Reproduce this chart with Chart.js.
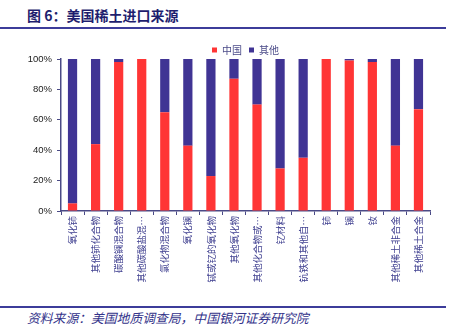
<!DOCTYPE html>
<html>
<head>
<meta charset="utf-8">
<script src="https://cdn.jsdelivr.net/npm/chart.js@4"></script>
<style>
  body { margin: 0; background: #fff; }
  #wrap { position: relative; width: 449px; height: 329px; overflow: hidden; }
  #title { position: absolute; left: 27px; top: 5px; font: bold 14px "Noto Sans CJK SC", sans-serif; color: #1e1e6e; white-space: nowrap; }
  .rule { position: absolute; left: 0; width: 446px; background: #3c3c9a; }
  #source { position: absolute; left: 27px; top: 308px; font: italic 12.8px "Noto Sans CJK SC", sans-serif; color: #33338a; white-space: nowrap; }
  #box { position: absolute; left: 0; top: 36px; width: 449px; height: 260px; }
</style>
</head>
<body>
<div id="wrap">
  <div id="title">图 6：美国稀土进口来源</div>
  <div class="rule" style="top:27px;height:2px;"></div>
  <div id="box"><canvas id="chart"></canvas></div>
  <div class="rule" style="top:306px;height:1.5px;"></div>
  <div id="source">资料来源：美国地质调查局，中国银河证券研究院</div>
</div>
<script>
// categories (truncated the same way as the source chart)
const categories = ['氧化铈', '其他铈化合物', '碳酸镧混合物', '其他碳酸盐混…', '氯化物混合物', '氧化镧',
  '铽或钇的氧化物', '其他氧化物', '其他化合物或…', '钇材料', '钪铁和其他自…', '铈', '镧', '钕',
  '其他稀土非合金', '其他稀土合金'];
// share from China, %
const chinaShare = [5, 44, 98, 100, 65, 43, 23, 87, 70, 28, 35, 100, 99, 98, 43, 67];
// share from other countries, %
const otherShare = [95, 56, 2, 0, 35, 57, 77, 13, 30, 72, 65, 0, 1, 2, 57, 33];
const yTicks = [0, 20, 40, 60, 80, 100];

const axisColor = '#4a4a86';

// legend sits closer to the plot than chart.js leaves by default
const tightLegend = {
  id: 'tightLegend',
  beforeUpdate(chart) {
    const lg = chart.legend;
    if (lg && !lg._tight) {
      const fit = lg.fit;
      lg.fit = function () { fit.call(this); this.height -= 6; };
      lg._tight = true;
    }
  }
};

const ctx = document.getElementById('chart').getContext('2d');
new Chart(ctx, {
  type: 'bar',
  data: {
    labels: categories,
    datasets: [
      { label: '中国', data: chinaShare, backgroundColor: '#ff3535', barPercentage: 0.4, categoryPercentage: 1 },
      { label: '其他', data: otherShare, backgroundColor: '#403494', barPercentage: 0.4, categoryPercentage: 1 }
    ]
  },
  options: {
    responsive: true,
    maintainAspectRatio: false,
    animation: false,
    layout: { padding: { top: 2, right: 19, left: 0, bottom: 0 } },
    plugins: {
      tooltip: { enabled: false },
      legend: {
        position: 'top',
        fullSize: false,
        labels: {
          boxWidth: 5,
          boxHeight: 5,
          padding: 7,
          color: '#4a4a88',
          font: { family: '"Noto Sans CJK SC", sans-serif', size: 10 }
        }
      }
    },
    scales: {
      x: {
        stacked: true,
        afterFit: (s) => { s.height = 85; },
        grid: { drawOnChartArea: false, tickLength: 4, color: axisColor, offset: true },
        border: { color: axisColor, width: 1.5 },
        ticks: {
          autoSkip: false,
          minRotation: 90,
          maxRotation: 90,
          padding: 1,
          color: '#404090',
          font: { family: '"Noto Sans CJK SC", sans-serif', size: 9.5 }
        }
      },
      y: {
        stacked: true,
        min: 0,
        max: 100,
        afterFit: (s) => { s.width = 61; },
        afterBuildTicks: (s) => { s.ticks = yTicks.map(v => ({ value: v })); },
        grid: { drawOnChartArea: false, tickLength: 4, color: axisColor },
        border: { color: axisColor, width: 1.5 },
        ticks: {
          padding: 5,
          color: '#222',
          font: { family: 'Arial, "Liberation Sans", sans-serif', size: 9.5 },
          callback: (v) => v + '%'
        }
      }
    }
  },
  plugins: [tightLegend]
});
</script>
</body>
</html>
